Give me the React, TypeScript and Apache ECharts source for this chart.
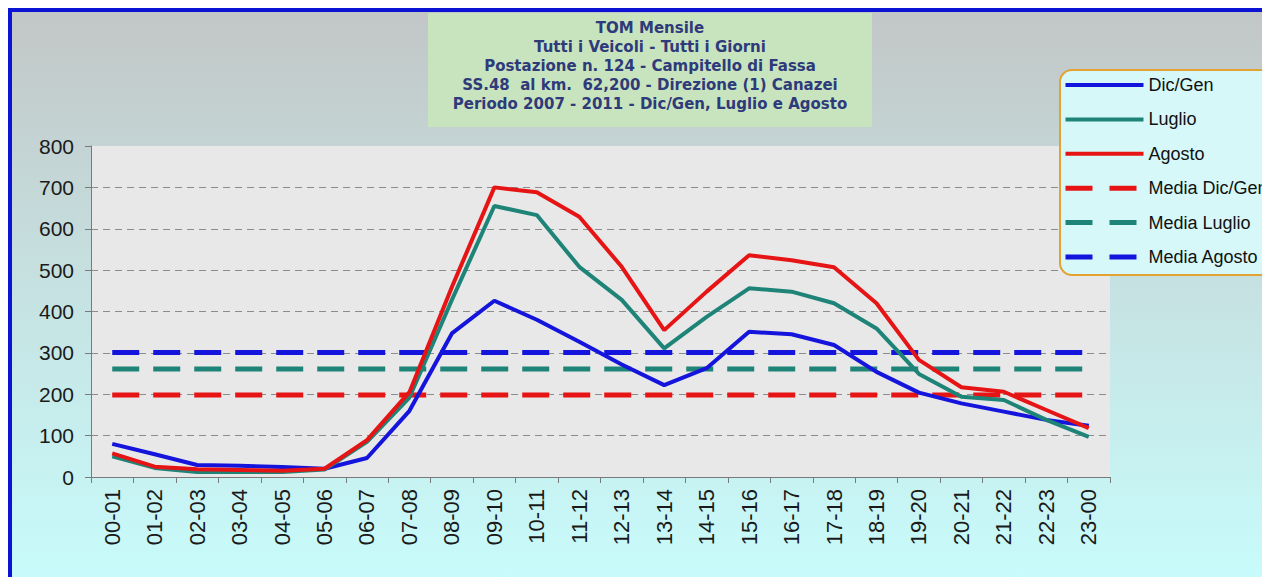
import React, { useEffect, useRef } from "react";
import * as echarts from "echarts";

const categories = [
  "00-01", "01-02", "02-03", "03-04", "04-05", "05-06", "06-07", "07-08",
  "08-09", "09-10", "10-11", "11-12", "12-13", "13-14", "14-15", "15-16",
  "16-17", "17-18", "18-19", "19-20", "20-21", "21-22", "22-23", "23-00",
];

const dicGen = [80, 55, 29, 27, 24, 20, 46, 160, 347, 426, 380, 327, 272, 222, 263, 351, 345, 319, 254, 204, 178, 158, 138, 124];
const luglio = [50, 22, 12, 12, 12, 18, 85, 192, 428, 655, 633, 508, 428, 311, 387, 456, 448, 420, 359, 249, 194, 186, 138, 97];
const agosto = [57, 25, 19, 17, 15, 20, 89, 205, 459, 700, 688, 629, 508, 355, 448, 536, 524, 507, 420, 283, 217, 206, 162, 118];

const mediaDicGen = 198;
const mediaLuglio = 261;
const mediaAgosto = 301;

const titleLines = [
  "TOM Mensile",
  "Tutti i Veicoli - Tutti i Giorni",
  "Postazione n. 124 - Campitello di Fassa",
  "SS.48  al km.  62,200 - Direzione (1) Canazei",
  "Periodo 2007 - 2011 - Dic/Gen, Luglio e Agosto",
];

const yTicks = { min: 0, max: 800, interval: 100 };

const BLUE = "#1414dc";
const TEAL = "#1e8478";
const RED = "#e61414";

export default function App() {
  const ref = useRef<HTMLDivElement>(null);

  useEffect(() => {
    if (!ref.current) return;
    const chart = echarts.init(ref.current, undefined, { renderer: "svg" });
    const font = "Liberation Sans";
    const dash = [27, 14];
    const solid = (name: string, data: number[], color: string) => ({
      name,
      type: "line",
      data,
      symbol: "none",
      lineStyle: { color, width: 4 },
      itemStyle: { color },
      z: 3,
    });
    const dashed = (name: string, value: number, color: string) => ({
      name,
      type: "line",
      data: categories.map(() => value),
      symbol: "none",
      lineStyle: { color, width: 5, type: dash },
      itemStyle: { color },
      z: 2,
    });
    const legSolid = (name: string, color: string) => ({
      name,
      itemStyle: { opacity: 0 },
      lineStyle: { color, width: 4, type: "solid" },
    });
    const legDash = (name: string, color: string) => ({
      name,
      itemStyle: { opacity: 0 },
      lineStyle: { color, width: 5, type: [27, 17] },
    });

    chart.setOption({
      animation: false,
      backgroundColor: {
        type: "linear",
        x: 0, y: 0, x2: 0, y2: 1,
        colorStops: [
          { offset: 0, color: "#c2c6c6" },
          { offset: 0.5, color: "#c6e2e2" },
          { offset: 1, color: "#c8fbfb" },
        ],
      },
      grid: {
        left: 79,
        top: 134,
        right: 160,
        bottom: 100,
        show: true,
        backgroundColor: "#e8e8e8",
        borderWidth: 0,
      },
      graphic: [
        {
          type: "rect",
          shape: { x: 416, y: 1, width: 444, height: 114 },
          style: { fill: "#c8e4be" },
          z: 10,
        },
        {
          type: "text",
          x: 638,
          y: 6,
          z: 11,
          style: {
            text: titleLines.join("\n"),
            align: "center",
            verticalAlign: "top",
            fontFamily: "DejaVu Sans",
            fontWeight: "bold",
            fontSize: 15,
            lineHeight: 19,
            fill: "#2e3a7a",
          },
        },
      ],
      legend: {
        orient: "vertical",
        left: 1048,
        top: 58,
        data: [
          legSolid("Dic/Gen", BLUE),
          legSolid("Luglio", TEAL),
          legSolid("Agosto", RED),
          legDash("Media Dic/Gen", RED),
          legDash("Media Luglio", TEAL),
          legDash("Media Agosto", BLUE),
        ],
        itemWidth: 78,
        itemHeight: 14,
        itemGap: 14.4,
        padding: [5, 10, 8, 3],
        backgroundColor: "#d6f8f8",
        borderColor: "#e4a232",
        borderWidth: 2,
        borderRadius: 12,
        textStyle: { fontFamily: font, fontSize: 18, color: "#111", lineHeight: 20 },
        z: 20,
      },
      xAxis: {
        type: "category",
        data: categories,
        axisLine: { lineStyle: { color: "#7a7a7a", width: 1 } },
        axisTick: { show: true, length: 6, lineStyle: { color: "#7a7a7a" } },
        axisLabel: {
          rotate: 90,
          margin: 12,
          fontFamily: font,
          fontSize: 22,
          color: "#1a1a1a",
          interval: 0,
        },
        splitLine: { show: false },
      },
      yAxis: {
        type: "value",
        min: yTicks.min,
        max: yTicks.max,
        interval: yTicks.interval,
        axisLine: { show: true, lineStyle: { color: "#7a7a7a", width: 1 } },
        axisTick: { show: true, length: 6, lineStyle: { color: "#7a7a7a" } },
        axisLabel: { margin: 17, fontFamily: font, fontSize: 21, color: "#1a1a1a" },
        splitLine: {
          show: true,
          lineStyle: {
            color: ["transparent", "#8c8c8c", "#8c8c8c", "#8c8c8c", "#8c8c8c", "#8c8c8c", "#8c8c8c", "#8c8c8c", "transparent"],
            type: [7, 5],
            width: 1,
          },
        },
      },
      series: [
        dashed("Media Dic/Gen", mediaDicGen, RED),
        dashed("Media Luglio", mediaLuglio, TEAL),
        dashed("Media Agosto", mediaAgosto, BLUE),
        solid("Dic/Gen", dicGen, BLUE),
        solid("Luglio", luglio, TEAL),
        solid("Agosto", agosto, RED),
      ],
    });
    return () => chart.dispose();
  }, []);

  return (
    <div
      style={{
        width: 1258,
        height: 565,
        borderTop: "4px solid #0a14d2",
        borderLeft: "4px solid #0a14d2",
      }}
    >
      <div ref={ref} style={{ width: 1258, height: 565 }} />
    </div>
  );
}
